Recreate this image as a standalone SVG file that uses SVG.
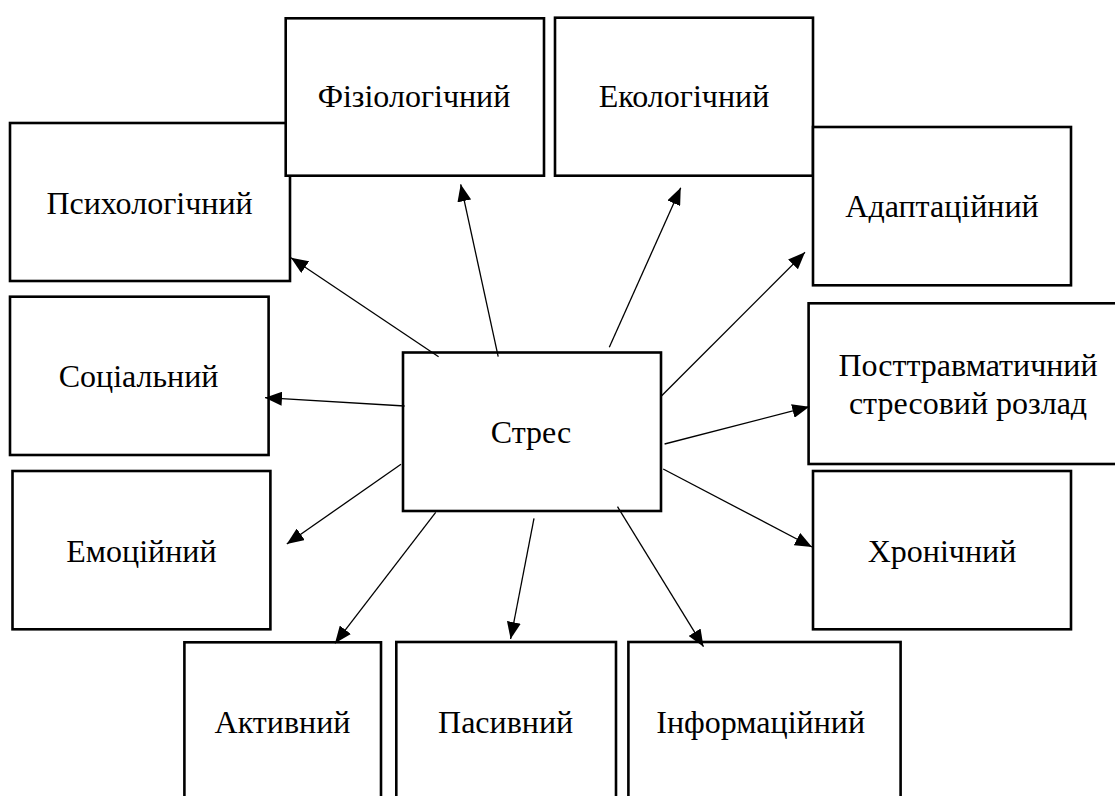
<svg xmlns="http://www.w3.org/2000/svg" width="1115" height="796" viewBox="0 0 1115 796">
  <style>
    .box { fill: #ffffff; stroke: #000000; stroke-width: 2.6; }
    .lbl { font-family: "Liberation Serif", "Times New Roman", serif; font-size: 32px; fill: #000000; text-anchor: middle; }
    .link { stroke: #000000; stroke-width: 1.3; fill: none; marker-end: url(#head); }
  </style>
  <defs>
    <marker id="head" markerUnits="userSpaceOnUse" markerWidth="18" markerHeight="14" refX="17" refY="7" orient="auto">
      <path d="M0,0 L17,7 L0,14 Z" fill="#000000"/>
    </marker>
  </defs>
  <rect width="1115" height="796" fill="#ffffff"/>

  <g id="psychological">
    <rect class="box" x="10" y="123" width="280" height="158"/>
    <text class="lbl" x="149.5" y="214">Психологічний</text>
  </g>
  <g id="physiological">
    <rect class="box" x="285.7" y="18.3" width="258.3" height="157.4"/>
    <text class="lbl" x="414" y="107">Фізіологічний</text>
  </g>
  <g id="ecological">
    <rect class="box" x="555" y="17.7" width="258" height="158"/>
    <text class="lbl" x="684" y="107">Екологічний</text>
  </g>
  <g id="adaptive">
    <rect class="box" x="813" y="127" width="258" height="158.3"/>
    <text class="lbl" x="942" y="217">Адаптаційний</text>
  </g>
  <g id="social">
    <rect class="box" x="10" y="296.7" width="258.6" height="158.3"/>
    <text class="lbl" x="138.6" y="387">Соціальний</text>
  </g>
  <g id="emotional">
    <rect class="box" x="12.5" y="471" width="257.9" height="158.3"/>
    <text class="lbl" x="141.4" y="561.7">Емоційний</text>
  </g>
  <g id="stress">
    <rect class="box" x="403" y="352.5" width="258" height="158.5"/>
    <text class="lbl" x="531" y="443">Стрес</text>
  </g>
  <g id="ptsd">
    <rect class="box" x="808.6" y="303.3" width="320" height="160.7"/>
    <text class="lbl" x="968" y="376">Посттравматичний</text>
    <text class="lbl" x="968" y="414">стресовий розлад</text>
  </g>
  <g id="chronic">
    <rect class="box" x="813" y="471" width="258" height="158.3"/>
    <text class="lbl" x="942" y="561.7">Хронічний</text>
  </g>
  <g id="active">
    <rect class="box" x="184.4" y="642.3" width="196.6" height="170"/>
    <text class="lbl" x="282.5" y="733">Активний</text>
  </g>
  <g id="passive">
    <rect class="box" x="396.3" y="642" width="219.7" height="170"/>
    <text class="lbl" x="505.6" y="733">Пасивний</text>
  </g>
  <g id="informational">
    <rect class="box" x="628.4" y="642" width="272.2" height="170"/>
    <text class="lbl" x="760.7" y="733">Інформаційний</text>
  </g>

  <g id="connectors">
    <line class="link" x1="438.6" y1="356.7" x2="291" y2="257.7"/>
    <line class="link" x1="498.2" y1="356.7" x2="460.7" y2="184.3"/>
    <line class="link" x1="609.3" y1="347.3" x2="680.7" y2="187.7"/>
    <line class="link" x1="661.4" y1="396" x2="805" y2="252.3"/>
    <line class="link" x1="664.6" y1="444" x2="809.3" y2="406.7"/>
    <line class="link" x1="663.2" y1="469" x2="812" y2="547"/>
    <line class="link" x1="617.5" y1="506.7" x2="703.5" y2="646.7"/>
    <line class="link" x1="534" y1="518.3" x2="510.6" y2="639"/>
    <line class="link" x1="435.7" y1="512.3" x2="335" y2="643.3"/>
    <line class="link" x1="401" y1="464.3" x2="286.8" y2="544"/>
    <line class="link" x1="404.6" y1="406" x2="265" y2="397.7"/>
  </g>
</svg>
